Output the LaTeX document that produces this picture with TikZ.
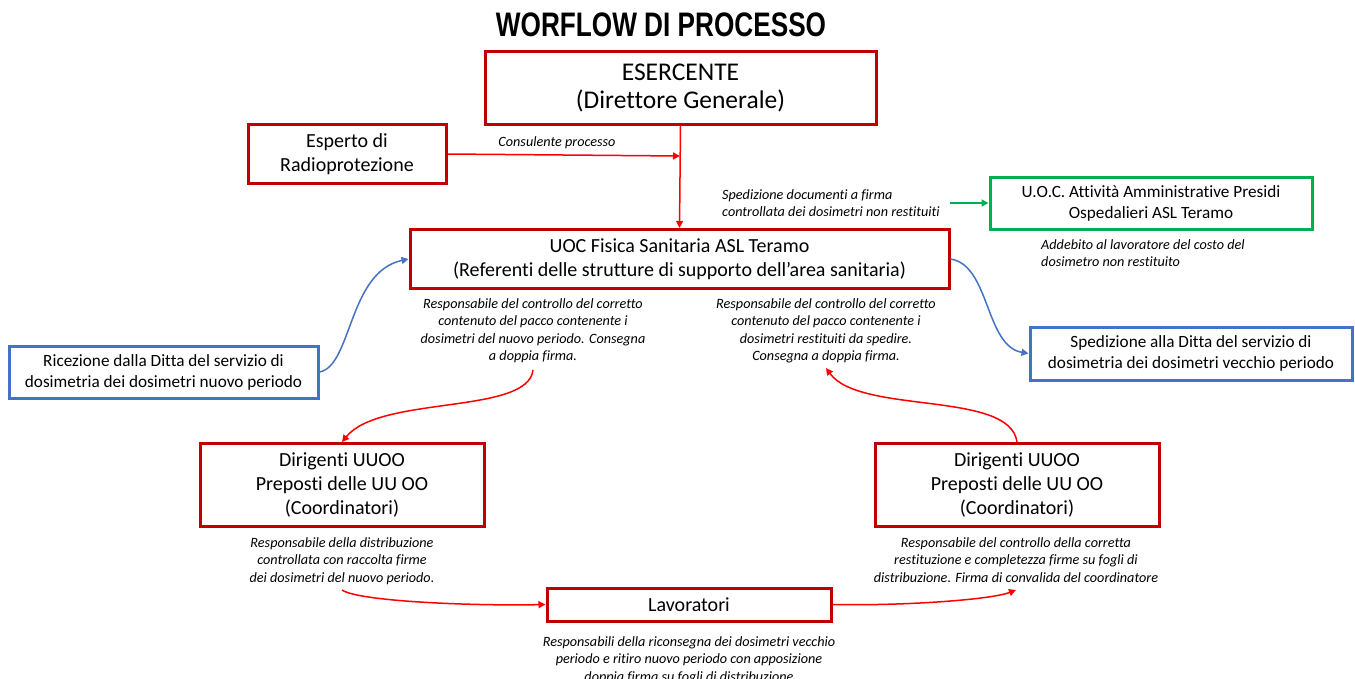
\documentclass[tikz,border=0pt]{standalone}
\usepackage{fontspec}
\setmainfont{Carlito}[Ligatures=NoCommon]
\newfontfamily\titlefont{Liberation Sans}
\usetikzlibrary{arrows.meta}

\definecolor{boxred}{HTML}{C00000}
\definecolor{arrred}{HTML}{FF0000}
\definecolor{boxblue}{HTML}{4472C4}
\definecolor{boxgreen}{HTML}{00B050}

\tikzset{
  redbox/.style={rectangle, draw=boxred, line width=3pt, fill=white,
    align=center, inner sep=0pt},
  bluebox/.style={rectangle, draw=boxblue, line width=3pt, fill=white,
    align=center, inner sep=0pt, font=\fontsize{17.2}{21}\selectfont},
  greenbox/.style={rectangle, draw=boxgreen, line width=3pt, fill=white,
    align=center, inner sep=0pt, font=\fontsize{17.2}{21}\selectfont},
  note/.style={inner sep=0pt, font=\fontsize{14.2}{17.5}\selectfont\itshape},
  redarrow/.style={draw=arrred, line width=1.5pt, -{Triangle[length=7pt,width=7pt]}},
  bluearrow/.style={draw=boxblue, line width=1.5pt, -{Triangle[length=7pt,width=7pt]}},
  greenarrow/.style={draw=boxgreen, line width=1.5pt, -{Triangle[length=7pt,width=7pt]}}
}

\begin{document}
\begin{tikzpicture}[x=1pt, y=-1pt]
    \useasboundingbox (0,0) rectangle (1355,678);

    % title
    \node (title) at (661,25) {\titlefont\bfseries\fontsize{34}{40}\selectfont\scalebox{0.77}[1]{WORFLOW DI PROCESSO}};

    % boxes
    \node[redbox,
        minimum width = 391pt,
        minimum height = 73pt,
        font=\fontsize{25.5}{28}\selectfont] (esercente) at (680.5,87.5) {ESERCENTE\\(Direttore Generale)};
    \node[redbox,
        minimum width = 198pt,
        minimum height = 59pt,
        font=\fontsize{20}{24}\selectfont] (esperto) at (347,154) {Esperto di\\Radioprotezione};
    \node[redbox,
        minimum width = 539pt,
        minimum height = 59pt,
        font=\fontsize{20}{24}\selectfont] (uoc) at (679.5,259) {UOC Fisica Sanitaria ASL Teramo\\(Referenti delle strutture di supporto dell’area sanitaria)};
    \node[greenbox,
        minimum width = 322pt,
        minimum height = 52pt] (amm) at (1151,203) {U.O.C. Attività Amministrative Presidi\\Ospedalieri ASL Teramo};
    \node[bluebox,
        minimum width = 309pt,
        minimum height = 52pt] (ricezione) at (163.5,372) {Ricezione dalla Ditta del servizio di\\dosimetria dei dosimetri nuovo periodo};
    \node[bluebox,
        minimum width = 322pt,
        minimum height = 53pt] (spedizione) at (1191,353.5) {Spedizione alla Ditta del servizio di\\dosimetria dei dosimetri vecchio periodo};
    \node[redbox,
        minimum width = 284pt,
        minimum height = 83pt,
        font=\fontsize{20}{24}\selectfont] (dirL) at (342,485) {Dirigenti UUOO\\Preposti delle UU OO\\(Coordinatori)};
    \node[redbox,
        minimum width = 284pt,
        minimum height = 83pt,
        font=\fontsize{20}{24}\selectfont] (dirR) at (1017,485) {Dirigenti UUOO\\Preposti delle UU OO\\(Coordinatori)};
    \node[redbox,
        minimum width = 284pt,
        minimum height = 33pt,
        font=\fontsize{20}{24}\selectfont] (lavoratori) at (689,604.5) {Lavoratori};

    % notes
    \node[note] (consulente) at (557,143) {Consulente processo};
    \node[note, align=left, anchor=north west] (spedDoc) at (722,189) {Spedizione documenti a firma\\controllata dei dosimetri non restituiti};
    \node[note, align=left, anchor=north west] (addebito) at (1041,239) {Addebito al lavoratore del costo del\\dosimetro non restituito};
    \node[note, align=center, anchor=north] (noteUocL) at (533,298) {Responsabile del controllo del corretto\\contenuto del pacco contenente i\\dosimetri del nuovo periodo. Consegna\\a doppia firma.};
    \node[note, align=center, anchor=north] (noteUocR) at (826,298) {Responsabile del controllo del corretto\\contenuto del pacco contenente i\\dosimetri restituiti da spedire.\\Consegna a doppia firma.};
    \node[note, align=center, anchor=north] (noteDirL) at (342,537) {Responsabile della distribuzione\\controllata con raccolta firme\\dei dosimetri del nuovo periodo.};
    \node[note, align=center, anchor=north] (noteDirR) at (1016,537) {Responsabile del controllo della corretta\\restituzione e completezza firme su fogli di\\distribuzione. Firma di convalida del coordinatore};
    \node[note, align=center, anchor=north] (noteLav) at (689,636) {Responsabili della riconsegna dei dosimetri vecchio\\periodo e ritiro nuovo periodo con apposizione\\doppia firma su fogli di distribuzione};

    % free ends of connectors
    \coordinate (joinEsp) at (680,156);
    \coordinate (startAmm) at (950,203);
    \coordinate (startL) at (533,370);
    \coordinate (endR) at (826,368);
    \coordinate (startLav) at (342,590);
    \coordinate (endLav) at (1016,590);

    % connectors
    \draw[redarrow] (esercente.south) -- (uoc.north);
    \draw[redarrow] (esperto.east) -- (joinEsp);
    \draw[greenarrow] (startAmm) -- (amm.west);
    \draw[bluearrow] (ricezione.east) .. controls (352,366) and (348,272) .. (uoc.west);
    \draw[bluearrow] (uoc.east) .. controls (990,265) and (985,346) .. (spedizione.west);
    \draw[redarrow] (startL) .. controls (528,415) and (380,395) .. (dirL.north);
    \draw[redarrow] (dirR.north) .. controls (1010,390) and (860,415) .. (endR);
    \draw[redarrow] (startLav) .. controls (360,602) and (480,606) .. (lavoratori.west);
    \draw[redarrow] (lavoratori.east) .. controls (900,606) and (990,600) .. (endLav);

\end{tikzpicture}
\end{document}
